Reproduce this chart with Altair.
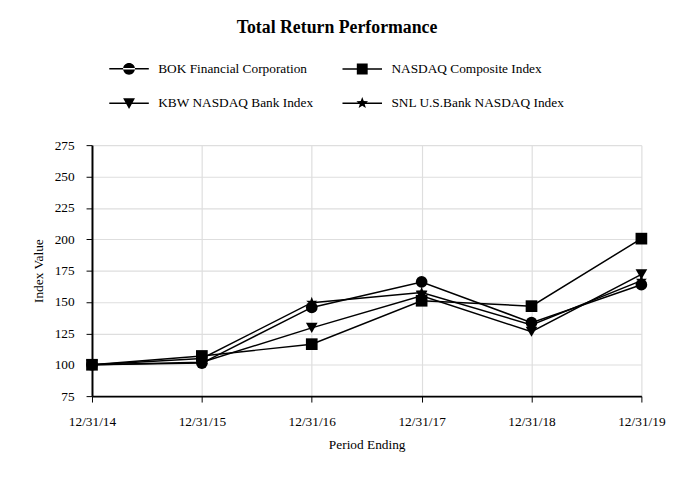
import math
import altair as alt
import pandas as pd

periods = ["12/31/14", "12/31/15", "12/31/16", "12/31/17", "12/31/18", "12/31/19"]
series_names = ["BOK Financial Corporation", "NASDAQ Composite Index",
                "KBW NASDAQ Bank Index", "SNL U.S.Bank NASDAQ Index"]
bok = [100, 101.3, 145.7, 166.0, 133.6, 163.8]
nasdaq = [100, 107.0, 116.4, 151.0, 146.7, 200.5]
kbw = [100, 102.0, 129.4, 155.0, 126.3, 172.0]
snl = [100, 105.0, 149.5, 157.5, 131.8, 167.0]

rows = []
for name, vals in zip(series_names, [bok, nasdaq, kbw, snl]):
    for p, v in zip(periods, vals):
        rows.append({"period": p, "series": name, "value": v})
df = pd.DataFrame(rows)

FONT = "Liberation Serif"


def star_path(r_out, r_in):
    pts = []
    for i in range(10):
        r = r_out if i % 2 == 0 else r_in
        a = -math.pi / 2 + i * math.pi / 5
        pts.append((r * math.cos(a), r * math.sin(a)))
    return "M" + "L".join(f"{x:.3f},{y:.3f}" for x, y in pts) + "Z"


plot_shapes = ["circle", "square", "triangle-down", star_path(1.0, 0.42)]

seg = "M-2,-0.075H2V0.075H-2Z"
legend_shape_map = {
    "BOK Financial Corporation": seg + "M-0.6,0A0.6,0.6 0 1,0 0.6,0A0.6,0.6 0 1,0 -0.6,0Z",
    "NASDAQ Composite Index": seg + "M-0.55,-0.55H0.55V0.55H-0.55Z",
    "KBW NASDAQ Bank Index": seg + "M-0.6,-0.5H0.6L0,0.6Z",
    "SNL U.S.Bank NASDAQ Index": seg + star_path(0.62, 0.26),
}
# legend fills column by column: first column BOK/KBW, second NASDAQ/SNL
legend_order = [series_names[0], series_names[2], series_names[1], series_names[3]]
legend_shapes = [legend_shape_map[n] for n in legend_order]

x_enc = alt.X("period:O", sort=periods, scale=alt.Scale(type="point", padding=0),
              axis=alt.Axis(title="Period Ending", labelAngle=0, grid=True,
                            tickSize=6, labelPadding=13, titlePadding=10))
y_enc = alt.Y("value:Q", scale=alt.Scale(domain=[75, 275], nice=False, zero=False),
              axis=alt.Axis(title="Index Value", values=list(range(75, 276, 25)),
                            grid=True, tickSize=6, labelPadding=12, titlePadding=9))

base = alt.Chart(df)

lines = base.mark_line(color="black", strokeWidth=1.5).encode(
    x=x_enc, y=y_enc, detail="series:N")

points = base.mark_point(filled=True, color="black", opacity=1, size=140).encode(
    x=x_enc, y=y_enc,
    shape=alt.Shape("series:N", sort=series_names,
                    scale=alt.Scale(domain=series_names, range=plot_shapes),
                    legend=None))

legend_layer = base.transform_filter("datum.value < 0").mark_point(
    filled=True, color="black", opacity=1, size=400).encode(
    x=x_enc, y=y_enc,
    shape=alt.Shape("series:N", sort=legend_order,
                    scale=alt.Scale(domain=legend_order, range=legend_shapes),
                    legend=alt.Legend(title=None, orient="none", legendX=27, legendY=-88,
                                      columns=2, columnPadding=27, rowPadding=17,
                                      symbolSize=400, labelOffset=19,
                                      symbolFillColor="black", symbolStrokeColor="black",
                                      symbolStrokeWidth=0.5, symbolOpacity=1,
                                      labelFont=FONT, labelFontSize=13.5, labelColor="black",
                                      labelLimit=300, padding=0)))

chart = alt.layer(lines, points, legend_layer).resolve_scale(shape="independent").properties(
    width=556, height=254,
    background="white",
    autosize=alt.AutoSizeParams(type="none"),
    padding={"left": 85, "top": 136, "right": 33, "bottom": 75},
    title=alt.TitleParams("Total Return Performance", font=FONT, fontSize=18,
                          fontWeight="bold", color="black", anchor="middle",
                          dx=-30, offset=21),
).configure_view(stroke=None).configure_axis(
    labelFont=FONT, titleFont=FONT, labelFontSize=13.5, titleFontSize=13.5,
    titleFontWeight="normal", labelColor="black", titleColor="black",
    domainColor="black", domainWidth=2, tickColor="black", tickWidth=1,
    gridColor="#dedede", gridWidth=1.2,
)

chart.save("out.html", embed_options={"renderer": "svg", "actions": False})
